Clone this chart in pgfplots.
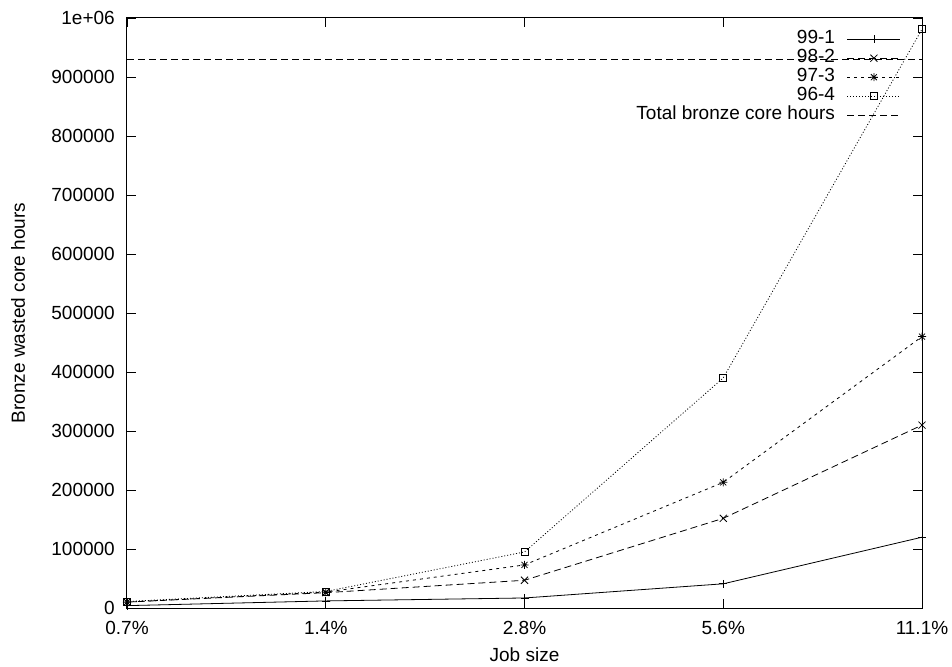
\documentclass[border=0pt]{standalone}
\usepackage{fontspec}
\setmainfont{Liberation Sans}
\usepackage{pgfplots}
\pgfplotsset{compat=1.18}
\usetikzlibrary{calc}

% gnuplot-style asterisk: a plus laid over a cross
\pgfdeclareplotmark{plusx}{%
  \pgfpathmoveto{\pgfqpoint{-\pgfplotmarksize}{0pt}}%
  \pgfpathlineto{\pgfqpoint{\pgfplotmarksize}{0pt}}%
  \pgfpathmoveto{\pgfqpoint{0pt}{-\pgfplotmarksize}}%
  \pgfpathlineto{\pgfqpoint{0pt}{\pgfplotmarksize}}%
  \pgfpathmoveto{\pgfqpoint{-0.75\pgfplotmarksize}{-0.75\pgfplotmarksize}}%
  \pgfpathlineto{\pgfqpoint{0.75\pgfplotmarksize}{0.75\pgfplotmarksize}}%
  \pgfpathmoveto{\pgfqpoint{-0.75\pgfplotmarksize}{0.75\pgfplotmarksize}}%
  \pgfpathlineto{\pgfqpoint{0.75\pgfplotmarksize}{-0.75\pgfplotmarksize}}%
  \pgfusepathqstroke}

\newcommand{\lblfont}{\fontsize{19}{22}\selectfont}

\begin{document}
\begin{tikzpicture}
\begin{axis}[
  scale only axis,
  width=795pt, height=590pt,
  xmin=0, xmax=4,
  ymin=0, ymax=1000000,
  xtick={0,1,2,3,4},
  xticklabels={0.7\%,1.4\%,2.8\%,5.6\%,11.1\%},
  ytick={0,100000,200000,300000,400000,500000,600000,700000,800000,900000,1000000},
  yticklabels={0,100000,200000,300000,400000,500000,600000,700000,800000,900000,1e+06},
  scaled y ticks=false,
  tick align=inside,
  major tick length=9pt,
  tick style={black, line width=0.8pt},
  axis line style={line width=1pt},
  every tick label/.append style={font=\lblfont},
  xticklabel style={anchor=center, inner sep=0pt, yshift=-19.5pt},
  yticklabel style={anchor=east, inner sep=0pt, xshift=-12pt},
  xlabel={Job size},
  ylabel={Bronze wasted core hours},
  every axis x label/.style={at={(rel axis cs:0.5,0)}, anchor=center, yshift=-47pt, font=\lblfont},
  every axis y label/.style={at={(rel axis cs:0,0.5)}, anchor=center, xshift=-109pt, rotate=90, font=\lblfont},
  legend style={draw=none, fill=none, inner sep=0pt, at={(1,1)}, anchor=north east,
    xshift=-21pt, yshift=-12.5pt,
    font=\lblfont,
    nodes={inner sep=0pt, text height=13pt, text depth=4pt},
    row sep=2pt, column sep=12pt},
  legend cell align=right,
  legend plot pos=right,
  legend image code/.code={%
    \draw[#1, mark repeat=2, mark phase=2]
      plot coordinates {(0pt,0pt) (26.5pt,0pt) (53pt,0pt)};},
  every axis plot/.append style={line width=0.8pt, black},
  mark size=4pt,
]
\addplot[solid, mark=+, mark options={solid}] coordinates {
  (0,4000) (1,12000) (2,17000) (3,41000) (4,120000)};
\addlegendentry{99-1}
\addplot[dash pattern=on 7pt off 4pt, mark=x, mark size=5pt, mark options={solid}] coordinates {
  (0,10000) (1,26000) (2,47000) (3,152000) (4,310000)};
\addlegendentry{98-2}
\addplot[dash pattern=on 3pt off 4pt, mark=plusx, mark options={solid}] coordinates {
  (0,10000) (1,27000) (2,73000) (3,213000) (4,460000)};
\addlegendentry{97-3}
\addplot[dash pattern=on 1pt off 2pt, mark=square, mark size=3.5pt, mark options={solid}] coordinates {
  (0,11000) (1,28000) (2,95000) (3,390000) (4,981000)};
\addlegendentry{96-4}
\addplot[dash pattern=on 7pt off 4pt] coordinates {(0,930000) (4,930000)};
\addlegendentry{Total bronze core hours}
\end{axis}
% page frame around the axis, its labels and the margins
\pgfresetboundingbox
\path ($(current axis.south west)+(-127pt,-58pt)$) rectangle ($(current axis.north east)+(30pt,18pt)$);
\end{tikzpicture}
\end{document}
